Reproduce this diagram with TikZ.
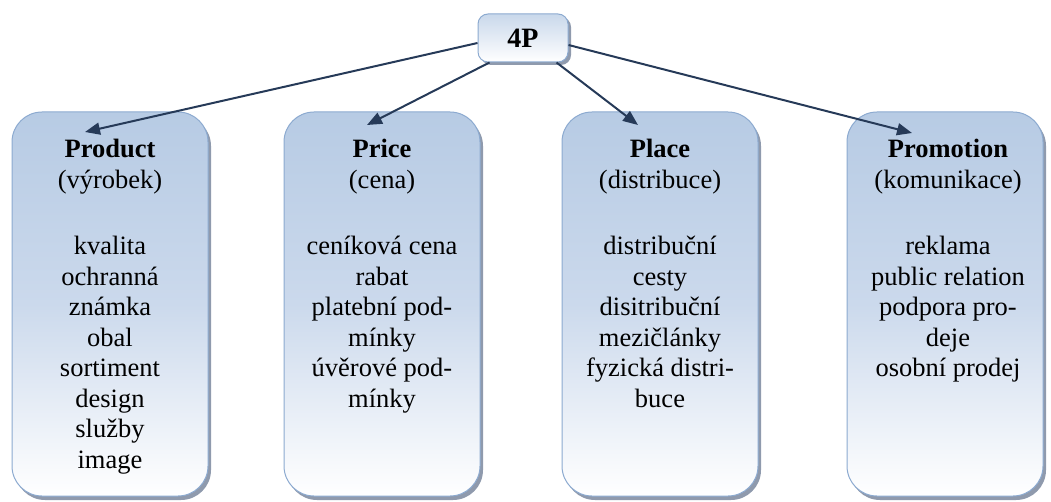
\documentclass[tikz,border=0pt]{standalone}
\usepackage{fontspec}
\setmainfont{Liberation Serif}
\newfontfamily\tnr{Liberation Serif}
\usetikzlibrary{arrows.meta,shadows}
\definecolor{boxtop}{RGB}{183,203,228}
\definecolor{boxmid}{RGB}{203,217,236}
\definecolor{boxedge}{RGB}{140,170,208}
\definecolor{shadowc}{RGB}{105,120,145}
\definecolor{arrowc}{RGB}{38,58,88}
\tikzset{
  pbox/.style={draw=boxedge, line width=1pt, rounded corners=30pt,
    top color=boxtop, bottom color=white, middle color=boxmid,
    minimum width=196pt, minimum height=384pt, inner sep=0pt,
    drop shadow={shadow xshift=3pt, shadow yshift=-4pt, fill=shadowc, opacity=0.75}},
  topbox/.style={draw=boxedge, line width=1pt, rounded corners=10pt,
    top color=boxtop!75!white, bottom color=white,
    minimum width=90pt, minimum height=48pt, inner sep=0pt,
    drop shadow={shadow xshift=3pt, shadow yshift=-3pt, fill=shadowc, opacity=0.75},
    font=\tnr\fontsize{28}{30}\selectfont\bfseries},
  btxt/.style={align=center, inner sep=0pt, anchor=north,
    font=\tnr\fontsize{26.5}{30.5}\selectfont},
  conn/.style={draw=arrowc, line width=2pt,
    -{Triangle[length=15pt,width=12pt]}}
}
\begin{document}
\begin{tikzpicture}[x=1pt,y=-1pt]
\useasboundingbox (0,0) rectangle (1051,502);
\node[topbox] (p4) at (523,38) {4P};

\node[pbox] (prod) at (110,304) {};
\node[pbox] (price) at (382,304) {};
\node[pbox] (place) at (660,304) {};
\node[pbox] (prom) at (945,304) {};

\node[btxt] (prodt) at (110,139) {\textbf{Product}\\(výrobek)\\[36pt]kvalita\\ochranná\\známka\\obal\\sortiment\\design\\služby\\image};
\node[btxt] (pricet) at (382,139) {\textbf{Price}\\(cena)\\[36pt]ceníková cena\\rabat\\platební pod-\\mínky\\úvěrové pod-\\mínky};
\node[btxt] (placet) at (660,139) {\textbf{Place}\\(distribuce)\\[36pt]distribuční\\cesty\\disitribuční\\mezičlánky\\fyzická distri-\\buce};
\node[btxt] (promt) at (948,139) {\textbf{Promotion}\\(komunikace)\\[36pt]reklama\\public relation\\podpora pro-\\deje\\osobní prodej};

\coordinate (prodtip) at (85,132);
\coordinate (pricetip) at (367,125);
\coordinate (placetip) at (638,125);
\coordinate (promtip) at (912,133);

\draw[conn] ([yshift=-5pt]p4.west) -- (prodtip);
\draw[conn] ([xshift=12pt]p4.south west) -- (pricetip);
\draw[conn] ([xshift=-12pt]p4.south east) -- (placetip);
\draw[conn] ([yshift=-7pt]p4.east) -- (promtip);
\end{tikzpicture}
\end{document}
